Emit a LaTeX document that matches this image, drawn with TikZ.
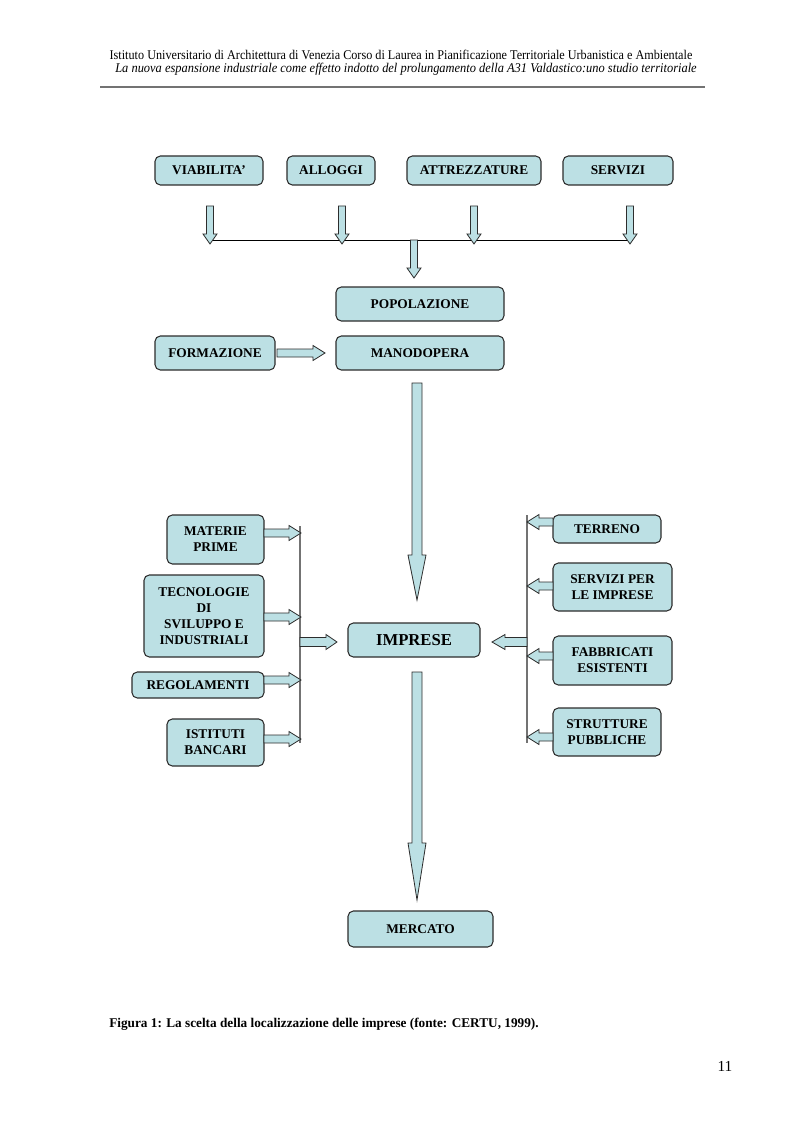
\documentclass[tikz,border=0pt]{standalone}
\usepackage{fontspec}
\setmainfont{Liberation Serif}
\usepackage{graphicx}
\definecolor{boxc}{RGB}{188,224,228}
\definecolor{edge}{RGB}{45,45,45}
\tikzset{
  box/.style={draw=edge, fill=boxc, rounded corners=4pt, line width=0.8pt, inner sep=0pt, align=center,
    font=\bfseries\fontsize{10}{12}\selectfont},
  arr/.style={draw=edge, fill=boxc, line width=0.6pt, line join=miter},
  bus/.style={draw=black, line width=0.7pt},
  gbus/.style={draw=black!55, line width=0.9pt},
}
% box by corners (pixel units)
\newcommand{\bx}[7][]{\node[box,#1, minimum width={(#5-#3)*0.75pt}, minimum height={(#6-#4)*0.75pt}] (#2) at ({(#3+#5)/2},{(#4+#6)/2}) {#7};}
% block arrows: down {x}{ytop}{ytip}{half shaft}{half head}{head length}
\newcommand{\arrD}[6]{\filldraw[arr] ({#1-#4},#2) -- ({#1+#4},#2) -- ({#1+#4},{#3-#6}) -- ({#1+#5},{#3-#6}) -- (#1,#3) -- ({#1-#5},{#3-#6}) -- ({#1-#4},{#3-#6}) -- cycle;}
% right {y}{xstart}{xtip}{hs}{hh}{hl}
\newcommand{\arrR}[6]{\filldraw[arr] (#2,{#1-#4}) -- ({#3-#6},{#1-#4}) -- ({#3-#6},{#1-#5}) -- (#3,#1) -- ({#3-#6},{#1+#5}) -- ({#3-#6},{#1+#4}) -- (#2,{#1+#4}) -- cycle;}
% left {y}{xstart}{xtip}{hs}{hh}{hl}
\newcommand{\arrL}[6]{\filldraw[arr] (#2,{#1-#4}) -- ({#3+#6},{#1-#4}) -- ({#3+#6},{#1-#5}) -- (#3,#1) -- ({#3+#6},{#1+#5}) -- ({#3+#6},{#1+#4}) -- (#2,{#1+#4}) -- cycle;}
\begin{document}
\begin{tikzpicture}[x=0.75pt,y=-0.75pt]
\useasboundingbox[fill=white] (0,0) rectangle (793,1123);

% header
\node (h1) at (401,55) {\resizebox{437pt}{\height}{\fontsize{10}{12}\selectfont Istituto Universitario di Architettura di Venezia Corso di Laurea in Pianificazione Territoriale Urbanistica e Ambientale}};
\node (h2) at (406,69) {\resizebox{436pt}{\height}{\fontsize{10}{12}\selectfont\itshape La nuova espansione industriale come effetto indotto del prolungamento della A31 Valdastico:uno studio territoriale}};
\draw[draw=black!55, line width=0.8pt] (100,87) -- (705,87);

% top row
\bx{viab}{155}{156}{263}{185}{VIABILITA’}
\bx{allo}{287}{156}{375}{185}{ALLOGGI}
\bx{attr}{407}{156}{541}{185}{ATTREZZATURE}
\bx{serv}{563}{156}{673}{185}{SERVIZI}

\coordinate (busL) at (210,240);
\coordinate (busR) at (630,240);
\draw[bus] (busL) -- (busR);
\arrD{210}{206}{244}{3.5}{7}{10}
\arrD{342}{206}{244}{3.5}{7}{10}
\arrD{474}{206}{244}{3.5}{7}{10}
\arrD{630}{206}{244}{3.5}{7}{10}
\arrD{414}{240}{278}{3.5}{7}{10}

\bx{pop}{336}{287}{504}{321}{POPOLAZIONE}
\bx{mano}{336}{336}{504}{370}{MANODOPERA}
\bx{form}{155}{336}{275}{370}{FORMAZIONE}
\arrR{353}{277}{325}{4}{7.5}{12}

\arrD{417}{383}{600}{5}{9}{45}
\bx[font=\bfseries\fontsize{12.5}{14}\selectfont]{imp}{348}{623}{480}{657}{IMPRESE}
\arrD{417}{672}{900}{5}{9}{57}
\bx{merc}{348}{911}{493}{947}{MERCATO}

% left group
\bx{mat}{167}{515}{264}{564}{MATERIE\\PRIME}
\bx{tec}{144}{575}{264}{657}{TECNOLOGIE\\DI\\SVILUPPO E\\INDUSTRIALI}
\bx{reg}{132}{672}{264}{698}{REGOLAMENTI}
\bx{ist}{167}{719}{264}{766}{ISTITUTI\\BANCARI}
\coordinate (lbT) at (300,526);
\coordinate (lbB) at (300,743);
\draw[gbus] (lbT) -- (lbB);
\arrR{533}{264}{301}{4}{7.5}{12}
\arrR{617}{264}{301}{4}{7.5}{12}
\arrR{680}{264}{301}{4}{7.5}{12}
\arrR{739}{264}{301}{4}{7.5}{12}
\arrR{642}{300}{337}{4.5}{7.5}{11}

% right group
\bx{ter}{553}{515}{661}{543}{TERRENO}
\bx{sip}{553}{563}{672}{611}{SERVIZI PER\\LE IMPRESE}
\bx{fab}{553}{636}{672}{685}{FABBRICATI\\ESISTENTI}
\bx{str}{553}{708}{661}{756}{STRUTTURE\\PUBBLICHE}
\coordinate (rbT) at (527,515);
\coordinate (rbB) at (527,743);
\draw[gbus] (rbT) -- (rbB);
\arrL{522}{553}{527}{4}{7.5}{12}
\arrL{586}{553}{527}{4}{7.5}{12}
\arrL{656}{553}{527}{4}{7.5}{12}
\arrL{737}{553}{527}{4}{7.5}{12}
\arrL{642}{527}{492}{4.5}{7.5}{13}

% caption and page number
\node[anchor=west, inner sep=0pt] (cap) at (109,1024) {\resizebox{322pt}{\height}{\bfseries\fontsize{10}{12}\selectfont Figura 1: La scelta della localizzazione delle imprese (fonte: CERTU, 1999).}};
\node (pg) at (725,1066) {\fontsize{11.5}{13}\selectfont 11};
\end{tikzpicture}
\end{document}
